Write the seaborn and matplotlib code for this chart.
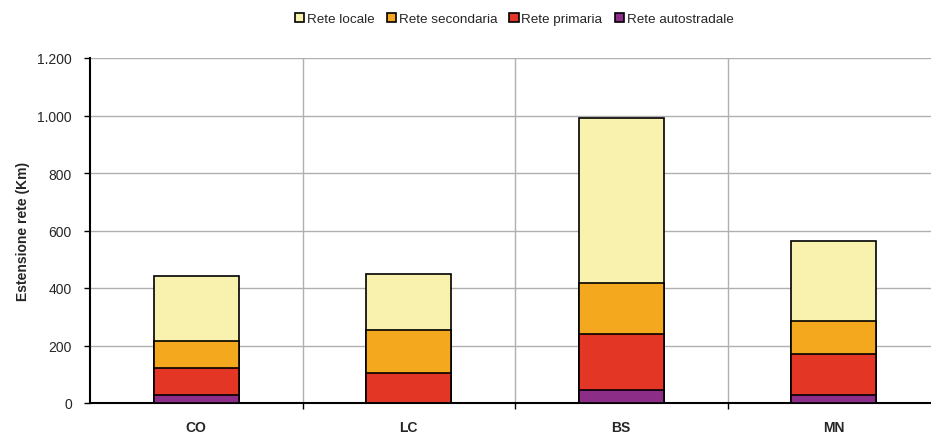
import matplotlib
matplotlib.use("Agg")
import matplotlib.pyplot as plt
from matplotlib.patches import Patch
from matplotlib.ticker import FuncFormatter
import pandas as pd
import numpy as np
import seaborn as sns

province = ["CO", "LC", "BS", "MN"]
rete_autostradale = [27, 0, 46, 27]
rete_primaria = [94, 104, 193, 142]
rete_secondaria = [93, 151, 179, 116]
rete_locale = [227, 192, 573, 277]

serie = ["Rete locale", "Rete secondaria", "Rete primaria", "Rete autostradale"]
colori = ["#F9F2AE", "#F4A81E", "#E43625", "#8C2D88"]

sns.set_theme(style="white")
plt.rcParams["font.family"] = ["Liberation Sans", "DejaVu Sans"]

# cumulative sums, bottom layer first
strati = [rete_autostradale, rete_primaria, rete_secondaria, rete_locale]
cum = np.cumsum(np.array(strati), axis=0)
df = pd.DataFrame({"provincia": province})
df["Rete autostradale"] = cum[0]
df["Rete primaria"] = cum[1]
df["Rete secondaria"] = cum[2]
df["Rete locale"] = cum[3]

fig = plt.figure(figsize=(9.31, 4.35), dpi=100)
ax = fig.add_axes([90 / 931, 31 / 435, 850 / 931, 345 / 435])

# draw from the top layer down so each shorter bar covers the bigger one
for nome, colore in zip(serie, colori):
    sns.barplot(data=df, x="provincia", y=nome, color=colore, width=0.4,
                edgecolor="black", linewidth=1.2, saturation=1, ax=ax, zorder=3)

ax.set_xlim(-0.5, 3.5)
ax.set_ylim(0, 1200)
ax.set_yticks(range(0, 1201, 200))
ax.yaxis.set_major_formatter(FuncFormatter(lambda v, p: f"{int(v):,}".replace(",", ".")))
ax.set_xticks([0.5, 1.5, 2.5], minor=True)
ax.grid(axis="y", color="#b0b0b0", linewidth=1, zorder=0)
ax.grid(axis="x", which="minor", color="#b0b0b0", linewidth=1, zorder=0)
ax.tick_params(axis="x", which="major", length=0, pad=12, labelsize=10)
ax.tick_params(axis="x", which="minor", length=4, width=1, color="black", direction="out", bottom=True)
ax.tick_params(axis="y", length=4, width=1, color="black", direction="out", left=True, labelsize=10, pad=9)
for lab in ax.get_xticklabels():
    lab.set_fontweight("bold")

ax.set_xlabel("")
ax.set_ylabel("Estensione rete (Km)", fontsize=10, fontweight="bold", labelpad=5)

for s in ["top", "right"]:
    ax.spines[s].set_visible(False)
for s in ["left", "bottom"]:
    ax.spines[s].set_color("black")
    ax.spines[s].set_linewidth(1.5)

handles = [Patch(facecolor=c, edgecolor="black", linewidth=1.2) for c in colori]
fig.legend(handles, serie, loc="center", bbox_to_anchor=(514 / 931, 1 - 20 / 435),
           ncol=4, frameon=False, fontsize=9.7, handlelength=0.7, handleheight=0.7,
           handletextpad=0.2, columnspacing=0.9)

fig.savefig("out.png", dpi=100)
